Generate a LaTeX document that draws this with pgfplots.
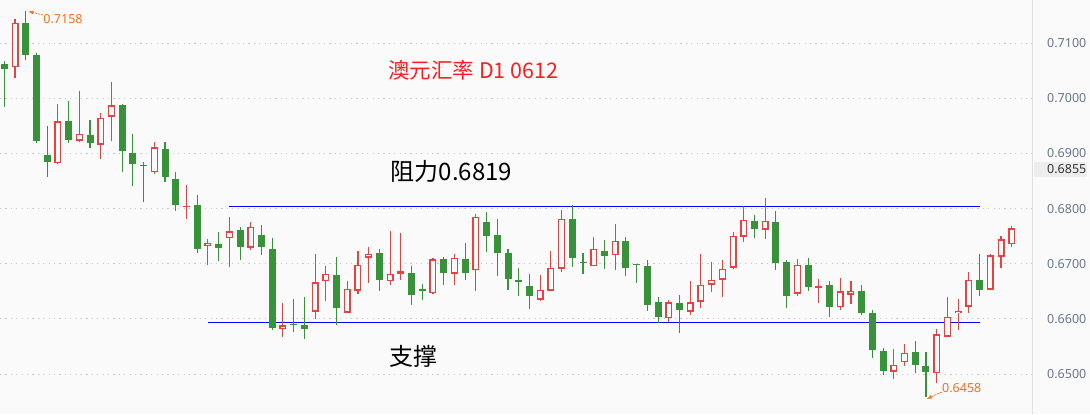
\documentclass[border=0pt]{standalone}
\usepackage{pgfplots}
\usepackage{pgfplotstable}
\pgfplotsset{compat=1.18}
\usepackage{fontspec}
\setmainfont{Noto Sans}
\newfontfamily\cjk{Noto Sans CJK SC}

\definecolor{bg}{RGB}{250,250,250}
\definecolor{cred}{RGB}{232,65,65}
\definecolor{cgreen}{RGB}{56,146,58}
\definecolor{tickgray}{RGB}{105,118,138}
\definecolor{anno}{RGB}{242,112,32}
\definecolor{titlered}{RGB}{250,30,30}

% bullish candles (hollow red): idx open high low close
\pgfplotstableread{
x o h l c
2 0.7056 0.7144 0.7037 0.7137
6 0.6883 0.6989 0.6881 0.6958
8 0.6923 0.7013 0.6921 0.6936
10 0.6916 0.6974 0.6890 0.6965
11 0.6967 0.7029 0.6923 0.6987
15 0.6866 0.6920 0.6863 0.6911
18 0.6803 0.6842 0.6781 0.6805
20 0.6733 0.6744 0.6698 0.6738
22 0.6746 0.6784 0.6694 0.6759
24 0.6729 0.6775 0.6725 0.6767
27 0.6582 0.6628 0.6567 0.6588
30 0.6613 0.6717 0.6600 0.6666
31 0.6668 0.6695 0.6632 0.6682
33 0.6611 0.6668 0.6611 0.6655
34 0.6651 0.6724 0.6645 0.6698
35 0.6711 0.6730 0.6665 0.6718
37 0.6668 0.6759 0.6661 0.6682
38 0.6682 0.6755 0.6671 0.6686
41 0.6647 0.6710 0.6645 0.6708
43 0.6682 0.6717 0.6661 0.6711
45 0.6688 0.6791 0.6651 0.6785
51 0.6635 0.6679 0.6632 0.6653
52 0.6651 0.6723 0.6650 0.6693
53 0.6691 0.6797 0.6685 0.6782
56 0.6695 0.6748 0.6695 0.6727
58 0.6715 0.6772 0.6689 0.6742
63 0.6601 0.6635 0.6594 0.6630
65 0.6613 0.6668 0.6607 0.6630
66 0.6631 0.6717 0.6620 0.6662
67 0.6662 0.6703 0.6649 0.6671
68 0.6671 0.6706 0.6640 0.6691
69 0.6693 0.6757 0.6690 0.6751
70 0.6749 0.6804 0.6739 0.6780
72 0.6762 0.6819 0.6745 0.6778
75 0.6646 0.6708 0.6642 0.6698
77 0.6656 0.6672 0.6629 0.6659
79 0.6621 0.6674 0.6616 0.6650
80 0.6644 0.6668 0.6627 0.6651
84 0.6504 0.6545 0.6491 0.6517
85 0.6521 0.6555 0.6514 0.6539
88 0.6501 0.6581 0.6484 0.6572
89 0.6568 0.6639 0.6568 0.6604
90 0.6610 0.6636 0.6580 0.6615
91 0.6622 0.6685 0.6611 0.6671
93 0.6653 0.6717 0.6653 0.6715
94 0.6713 0.6750 0.6692 0.6744
95 0.6735 0.6768 0.6730 0.6764
}\upcandles

% bearish candles (filled green)
\pgfplotstableread{
x o h l c
1 0.7062 0.7067 0.6984 0.7053
3 0.7137 0.7158 0.7069 0.7078
4 0.7078 0.7083 0.6919 0.6923
5 0.6898 0.6949 0.6857 0.6884
7 0.6958 0.6996 0.6919 0.6924
9 0.6934 0.6960 0.6910 0.6919
12 0.6987 0.6990 0.6866 0.6904
13 0.6900 0.6936 0.6841 0.6881
14 0.6879 0.6885 0.6812 0.6877
16 0.6908 0.6920 0.6848 0.6857
17 0.6854 0.6866 0.6796 0.6807
19 0.6806 0.6824 0.6720 0.6727
21 0.6735 0.6757 0.6705 0.6729
23 0.6761 0.6766 0.6707 0.6730
25 0.6753 0.6770 0.6716 0.6730
26 0.6726 0.6747 0.6580 0.6584
28 0.6590 0.6636 0.6576 0.6588
29 0.6588 0.6639 0.6564 0.6582
32 0.6680 0.6712 0.6589 0.6620
36 0.6719 0.6726 0.6651 0.6671
39 0.6683 0.6695 0.6625 0.6643
40 0.6654 0.6664 0.6634 0.6651
42 0.6709 0.6712 0.6661 0.6683
44 0.6708 0.6737 0.6671 0.6683
46 0.6776 0.6793 0.6721 0.6750
47 0.6753 0.6781 0.6678 0.6720
48 0.6719 0.6726 0.6652 0.6672
49 0.6670 0.6692 0.6642 0.6667
50 0.6659 0.6681 0.6618 0.6642
54 0.6782 0.6806 0.6694 0.6710
55 0.6704 0.6719 0.6681 0.6701
57 0.6724 0.6743 0.6690 0.6714
59 0.6741 0.6748 0.6678 0.6692
60 0.6699 0.6700 0.6665 0.6697
61 0.6695 0.6706 0.6614 0.6625
62 0.6630 0.6639 0.6592 0.6603
64 0.6628 0.6643 0.6574 0.6616
71 0.6778 0.6788 0.6747 0.6763
73 0.6775 0.6795 0.6689 0.6701
74 0.6703 0.6706 0.6620 0.6642
76 0.6697 0.6710 0.6651 0.6658
78 0.6661 0.6668 0.6603 0.6622
81 0.6650 0.6661 0.6607 0.6611
82 0.6610 0.6616 0.6529 0.6544
83 0.6541 0.6547 0.6498 0.6506
86 0.6540 0.6559 0.6502 0.6516
87 0.6514 0.6540 0.6458 0.6504
92 0.6670 0.6717 0.6642 0.6653
}\downcandles

\begin{document}
\begin{tikzpicture}[x=1bp,y=1bp]
\useasboundingbox (0,0) rectangle (1090,414);
\fill[bg] (0,0) rectangle (1090,414);

\begin{axis}[
    at={(0,0)}, anchor=south west,
    scale only axis,
    width=1032.7bp, height=414bp,
    xmin=0.6, xmax=96.96,
    ymin=0.64275, ymax=0.71783,
    clip=false,
    axis x line=none,
    axis y line*=right,
    y axis line style={draw=black!12, line width=0.9bp},
    xtick=\empty,
    ytick={0.65,0.66,0.67,0.68,0.69,0.70,0.71},
    major tick length=0pt,
    ymajorgrids=true,
    grid style={draw=black!22, line width=0.9bp, dash pattern=on 1.2bp off 4.2bp},
    scaled y ticks=false,
    yticklabel style={anchor=west, inner sep=0pt, xshift=14.3bp,
        font=\fontsize{12.5bp}{14bp}\selectfont, text=tickgray,
        /pgf/number format/.cd, fixed, fixed zerofill, precision=4, assume math mode=true},
]

% support / resistance
\addplot[blue, line width=1.3bp, forget plot] coordinates {(21.98,0.6804) (92.04,0.6804)};
\addplot[blue, line width=1.3bp, forget plot] coordinates {(20.0,0.6593) (92.04,0.6593)};

% red candles: wick, body outline, hollow interior
\addplot[draw=none, mark=none, forget plot,
    error bars/.cd, y dir=minus, y explicit, error mark=none,
    error bar style={draw=cred, line width=1.1bp}]
    table[x=x, y=h, y error minus expr=\thisrow{h}-\thisrow{l}] {\upcandles};
\addplot[draw=none, mark=none, forget plot,
    error bars/.cd, y dir=minus, y explicit, error mark=none,
    error bar style={draw=cred, line width=7bp}]
    table[x=x, y=c, y error minus expr=\thisrow{c}-\thisrow{o}] {\upcandles};
\addplot[draw=none, mark=none, forget plot,
    error bars/.cd, y dir=minus, y explicit, error mark=none,
    error bar style={draw=bg, line width=4.4bp}]
    table[x=x, y expr=\thisrow{c}-0.00024, y error minus expr={max(\thisrow{c}-\thisrow{o}-0.00048,0)}] {\upcandles};

% green candles: wick, filled body
\addplot[draw=none, mark=none, forget plot,
    error bars/.cd, y dir=minus, y explicit, error mark=none,
    error bar style={draw=cgreen, line width=1.1bp}]
    table[x=x, y=h, y error minus expr=\thisrow{h}-\thisrow{l}] {\downcandles};
\addplot[draw=none, mark=none, forget plot,
    error bars/.cd, y dir=minus, y explicit, error mark=none,
    error bar style={draw=cgreen, line width=7bp}]
    table[x=x, y=o, y error minus expr={max(\thisrow{o}-\thisrow{c},0.00012)}] {\downcandles};
\end{axis}

% current price marker
\fill[black!7] (1034.3,237.3) rectangle (1087.3,252);
\node[anchor=west, inner sep=0pt, text=black!80, font=\fontsize{12.5bp}{14bp}\selectfont] at (1047,244.5) {0.6855};

% texts
\node[anchor=west, inner sep=0pt, text=titlered, font=\cjk\fontsize{21.5bp}{24bp}\selectfont] at (388,343.3) {澳元汇率 D1 0612};
\node[anchor=west, inner sep=0pt, text=black, font=\cjk\fontsize{24bp}{28bp}\selectfont] at (390.5,242.3) {阻力0.6819};
\node[anchor=west, inner sep=0pt, text=black, font=\cjk\fontsize{24bp}{28bp}\selectfont] at (389.5,57.3) {支撑};

% high / low annotations
\draw[anno, line width=0.8bp, dash pattern=on 2bp off 1bp, -{latex}] (42.7,399) -- (28.3,402.7);
\node[anchor=west, inner sep=0pt, text=anno, font=\fontsize{12.5bp}{14bp}\selectfont] at (43.3,395) {0.7158};
\draw[anno, line width=0.8bp, dash pattern=on 2bp off 1bp, -{latex}] (941.7,22) -- (926.7,15);
\node[anchor=west, inner sep=0pt, text=anno, font=\fontsize{12.5bp}{14bp}\selectfont] at (942,26.3) {0.6458};
\end{tikzpicture}
\end{document}
